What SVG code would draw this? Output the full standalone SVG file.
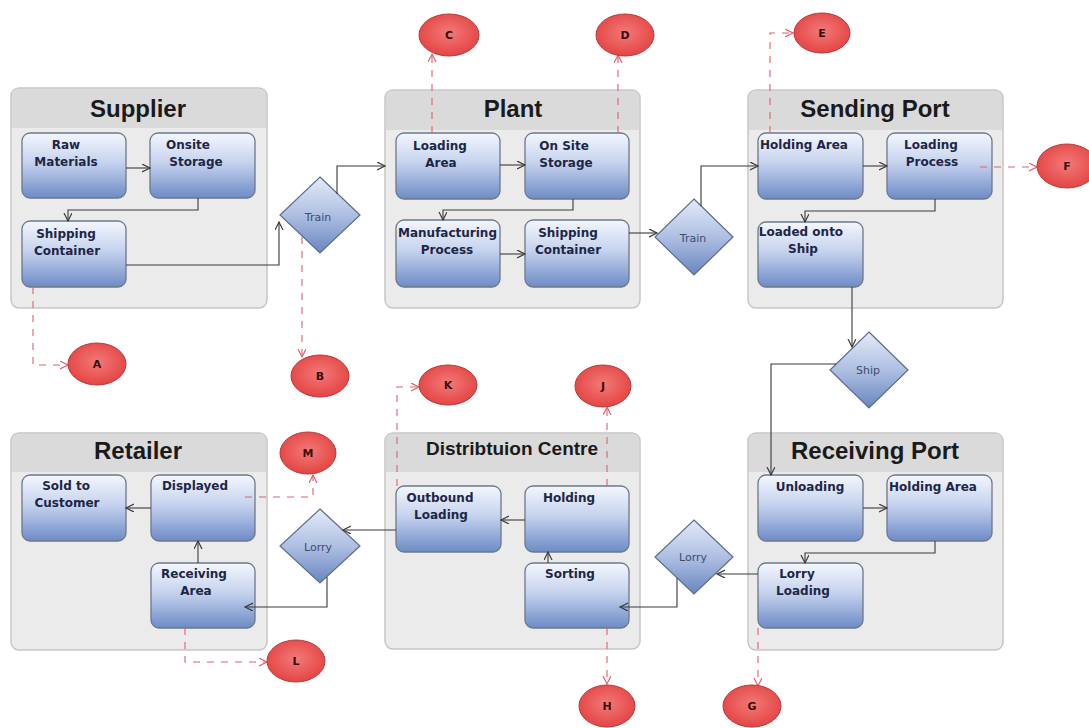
<svg xmlns="http://www.w3.org/2000/svg" width="1089" height="728" viewBox="0 0 1089 728">
<defs>
<linearGradient id="boxG" x1="0" y1="0" x2="0" y2="1">
<stop offset="0" stop-color="#f3f6fd"/>
<stop offset="0.45" stop-color="#c6d3ee"/>
<stop offset="1" stop-color="#6d8bc6"/>
</linearGradient>
<linearGradient id="diaG" x1="0" y1="0" x2="0" y2="1">
<stop offset="0" stop-color="#e4ebf8"/>
<stop offset="0.5" stop-color="#aebfe2"/>
<stop offset="1" stop-color="#6986bf"/>
</linearGradient>
<radialGradient id="redG" cx="0.5" cy="0.45" r="0.6">
<stop offset="0" stop-color="#f27a78"/>
<stop offset="1" stop-color="#e2403f"/>
</radialGradient>
<marker id="ah" markerWidth="10" markerHeight="10" refX="8" refY="4" orient="auto" markerUnits="userSpaceOnUse">
<path d="M0,0 L8,4 L0,8" fill="none" stroke="#3a3a3a" stroke-width="1.2"/>
</marker>
<marker id="ahr" markerWidth="10" markerHeight="10" refX="8" refY="4" orient="auto" markerUnits="userSpaceOnUse">
<path d="M0,0 L8,4 L0,8" fill="none" stroke="#e0606e" stroke-width="1.2"/>
</marker>
<clipPath id="clipManuf"><rect x="397" y="221" width="102" height="63" rx="7"/></clipPath>
<style>
.panel{fill:#ebebeb;stroke:#c6c6c6;stroke-width:1.5}
.phead{fill:#dadada}
.title{font-family:"Liberation Sans",Arial,sans-serif;font-weight:bold;font-size:24px;fill:#1a1a1a;text-anchor:middle}
.box{fill:url(#boxG);stroke:#6e7889;stroke-width:1.3}
.bt{font-family:"DejaVu Sans",sans-serif;font-weight:bold;font-size:12px;fill:#1e2646;text-anchor:middle}
.dia{fill:url(#diaG);stroke:#5d6d8c;stroke-width:1.2}
.dt{font-family:"DejaVu Sans",sans-serif;font-size:11px;fill:#3e4c6c;text-anchor:middle}
.circ{fill:url(#redG);stroke:#b53a3a;stroke-width:1}
.ct{font-family:"DejaVu Sans",sans-serif;font-weight:bold;font-size:11px;fill:#3a0c0c;text-anchor:middle}
.conn{fill:none;stroke:#3a3a3a;stroke-width:1.1;marker-end:url(#ah)}
.dash{fill:none;stroke:#e0606e;stroke-width:1.1;stroke-dasharray:7 7;marker-end:url(#ahr)}
</style>
</defs>
<rect width="1089" height="728" fill="#ffffff"/>

<!-- Panels -->
<g id="panel-supplier">
<rect class="panel" x="11" y="88" width="256" height="220" rx="8"/>
<path class="phead" d="M12,128 V96 Q12,89 19,89 H259 Q266,89 266,96 V128 Z"/>
<text class="title" x="138" y="117">Supplier</text>
</g>
<g id="panel-plant">
<rect class="panel" x="385" y="90" width="255" height="218" rx="8"/>
<path class="phead" d="M386,130 V98 Q386,91 393,91 H632 Q639,91 639,98 V130 Z"/>
<text class="title" x="513" y="117">Plant</text>
</g>
<g id="panel-sending">
<rect class="panel" x="748" y="90" width="255" height="218" rx="8"/>
<path class="phead" d="M749,130 V98 Q749,91 756,91 H995 Q1002,91 1002,98 V130 Z"/>
<text class="title" x="875" y="117">Sending Port</text>
</g>
<g id="panel-retailer">
<rect class="panel" x="11" y="433" width="256" height="217" rx="8"/>
<path class="phead" d="M12,472 V441 Q12,434 19,434 H259 Q266,434 266,441 V472 Z"/>
<text class="title" x="138" y="459">Retailer</text>
</g>
<g id="panel-distribution">
<rect class="panel" x="385" y="433" width="255" height="216" rx="8"/>
<path class="phead" d="M386,472 V441 Q386,434 393,434 H632 Q639,434 639,441 V472 Z"/>
<text class="title" x="512" y="455" style="font-size:19px">Distribtuion Centre</text>
</g>
<g id="panel-receiving">
<rect class="panel" x="748" y="433" width="255" height="217" rx="8"/>
<path class="phead" d="M749,472 V441 Q749,434 756,434 H995 Q1002,434 1002,441 V472 Z"/>
<text class="title" x="875" y="459">Receiving Port</text>
</g>

<!-- Supplier boxes -->
<g id="raw-materials"><rect class="box" x="22" y="133" width="104" height="65" rx="8"/><text class="bt" x="66" y="149">Raw</text><text class="bt" x="66" y="166">Materials</text></g>
<g id="onsite-storage"><rect class="box" x="150" y="133" width="105" height="65" rx="8"/><text class="bt" x="188" y="149">Onsite</text><text class="bt" x="196" y="166">Storage</text></g>
<g id="supplier-shipping"><rect class="box" x="22" y="221" width="104" height="66" rx="8"/><text class="bt" x="66" y="238">Shipping</text><text class="bt" x="67" y="255">Container</text></g>

<!-- Plant boxes -->
<g id="loading-area"><rect class="box" x="396" y="133" width="104" height="66" rx="8"/><text class="bt" x="440" y="150">Loading</text><text class="bt" x="441" y="167">Area</text></g>
<g id="onsite-storage-plant"><rect class="box" x="525" y="133" width="104" height="66" rx="8"/><text class="bt" x="564" y="150">On Site</text><text class="bt" x="566" y="167">Storage</text></g>
<g id="manufacturing"><rect class="box" x="396" y="220" width="104" height="67" rx="8"/><text class="bt" x="398" y="237" style="text-anchor:start" clip-path="url(#clipManuf)">Manufacturing</text><text class="bt" x="447" y="254">Process</text></g>
<g id="plant-shipping"><rect class="box" x="525" y="220" width="104" height="67" rx="8"/><text class="bt" x="568" y="237">Shipping</text><text class="bt" x="568" y="254">Container</text></g>

<!-- Sending port boxes -->
<g id="holding-area-sp"><rect class="box" x="758" y="133" width="105" height="66" rx="8"/><text class="bt" x="804" y="149">Holding Area</text></g>
<g id="loading-process"><rect class="box" x="887" y="133" width="105" height="66" rx="8"/><text class="bt" x="931" y="149">Loading</text><text class="bt" x="932" y="166">Process</text></g>
<g id="loaded-onto-ship"><rect class="box" x="758" y="222" width="105" height="65" rx="8"/><text class="bt" x="801" y="236">Loaded onto</text><text class="bt" x="803" y="253">Ship</text></g>

<!-- Receiving port boxes -->
<g id="unloading"><rect class="box" x="758" y="475" width="105" height="66" rx="8"/><text class="bt" x="810" y="491">Unloading</text></g>
<g id="holding-area-rp"><rect class="box" x="887" y="475" width="105" height="66" rx="8"/><text class="bt" x="933" y="491">Holding Area</text></g>
<g id="lorry-loading"><rect class="box" x="758" y="563" width="105" height="65" rx="8"/><text class="bt" x="797" y="578">Lorry</text><text class="bt" x="803" y="595">Loading</text></g>

<!-- Distribution boxes -->
<g id="outbound-loading"><rect class="box" x="396" y="486" width="105" height="66" rx="8"/><text class="bt" x="440" y="502">Outbound</text><text class="bt" x="441" y="519">Loading</text></g>
<g id="holding-dc"><rect class="box" x="525" y="486" width="104" height="66" rx="8"/><text class="bt" x="569" y="502">Holding</text></g>
<g id="sorting"><rect class="box" x="525" y="563" width="104" height="65" rx="8"/><text class="bt" x="570" y="578">Sorting</text></g>

<!-- Retailer boxes -->
<g id="sold-to-customer"><rect class="box" x="22" y="475" width="104" height="66" rx="8"/><text class="bt" x="66" y="490">Sold to</text><text class="bt" x="67" y="507">Customer</text></g>
<g id="displayed"><rect class="box" x="151" y="475" width="104" height="66" rx="8"/><text class="bt" x="195" y="490">Displayed</text></g>
<g id="receiving-area"><rect class="box" x="151" y="563" width="104" height="65" rx="8"/><text class="bt" x="194" y="578">Receiving</text><text class="bt" x="196" y="595">Area</text></g>

<!-- Diamonds -->
<g id="train-1"><polygon class="dia" points="320,177 360,215 320,253 280,215"/><text class="dt" x="318" y="221">Train</text></g>
<g id="train-2"><polygon class="dia" points="694,199 733,237 694,275 655,237"/><text class="dt" x="693" y="242">Train</text></g>
<g id="ship"><polygon class="dia" points="869,332 908,370 869,408 830,370"/><text class="dt" x="868" y="374">Ship</text></g>
<g id="lorry-rp"><polygon class="dia" points="694,520 733,557 694,594 655,557"/><text class="dt" x="693" y="561">Lorry</text></g>
<g id="lorry-ret"><polygon class="dia" points="320,509 360,546 320,583 280,546"/><text class="dt" x="318" y="551">Lorry</text></g>

<!-- Connectors -->
<g id="connectors">
<path class="conn" d="M126,168 H150"/>
<path class="conn" d="M198,198 V210 H68 V221"/>
<path class="conn" d="M126,265 H279 V222"/>
<path class="conn" d="M337,194 V166 H385"/>
<path class="conn" d="M500,165 H525"/>
<path class="conn" d="M573,199 V210 H443 V220"/>
<path class="conn" d="M500,254 H525"/>
<path class="conn" d="M629,233 H657"/>
<path class="conn" d="M701,206 V166 H758"/>
<path class="conn" d="M863,166 H887"/>
<path class="conn" d="M935,199 V211 H805 V222"/>
<path class="conn" d="M852,287 V347"/>
<path class="conn" d="M836,364 H771 V475"/>
<path class="conn" d="M863,508 H887"/>
<path class="conn" d="M935,541 V553 H805 V563"/>
<path class="conn" d="M758,574 H717"/>
<path class="conn" d="M677,578 V607 H620"/>
<path class="conn" d="M525,520 H501"/>
<path class="conn" d="M548,563 V552"/>
<path class="conn" d="M396,530 H343"/>
<path class="conn" d="M327,577 V607 H245"/>
<path class="conn" d="M151,508 H126"/>
<path class="conn" d="M198,563 V541"/>
<!-- dashed red links -->
<path class="dash" d="M33,287 V365 H68"/>
<path class="dash" d="M302,237 V357"/>
<path class="dash" d="M432,133 V54"/>
<path class="dash" d="M618,133 V55"/>
<path class="dash" d="M770,133 V33 H793"/>
<path class="dash" d="M980,167 H1037"/>
<path class="dash" d="M758,628 V686"/>
<path class="dash" d="M607,628 V684"/>
<path class="dash" d="M607,486 V407"/>
<path class="dash" d="M397,486 V387 H419"/>
<path class="dash" d="M185,628 V662 H267"/>
<path class="dash" d="M245,497 H313 V475"/>
</g>

<!-- Red markers -->
<g id="marker-A"><ellipse class="circ" cx="97" cy="364" rx="29" ry="21"/><text class="ct" x="97" y="368">A</text></g>
<g id="marker-B"><ellipse class="circ" cx="320" cy="376" rx="29" ry="21"/><text class="ct" x="320" y="380">B</text></g>
<g id="marker-C"><ellipse class="circ" cx="449" cy="35" rx="30" ry="21"/><text class="ct" x="449" y="39">C</text></g>
<g id="marker-D"><ellipse class="circ" cx="625" cy="35" rx="29" ry="21"/><text class="ct" x="625" y="39">D</text></g>
<g id="marker-E"><ellipse class="circ" cx="822" cy="33" rx="28" ry="20"/><text class="ct" x="822" y="37">E</text></g>
<g id="marker-F"><ellipse class="circ" cx="1067" cy="166" rx="30" ry="22"/><text class="ct" x="1067" y="170">F</text></g>
<g id="marker-G"><ellipse class="circ" cx="752" cy="706" rx="29" ry="21"/><text class="ct" x="752" y="710">G</text></g>
<g id="marker-H"><ellipse class="circ" cx="607" cy="706" rx="28" ry="21"/><text class="ct" x="607" y="710">H</text></g>
<g id="marker-J"><ellipse class="circ" cx="603" cy="386" rx="28" ry="21"/><text class="ct" x="603" y="390">J</text></g>
<g id="marker-K"><ellipse class="circ" cx="448" cy="385" rx="29" ry="20"/><text class="ct" x="448" y="389">K</text></g>
<g id="marker-L"><ellipse class="circ" cx="296" cy="661" rx="29" ry="21"/><text class="ct" x="296" y="665">L</text></g>
<g id="marker-M"><ellipse class="circ" cx="308" cy="453" rx="28" ry="21"/><text class="ct" x="308" y="457">M</text></g>
</svg>
